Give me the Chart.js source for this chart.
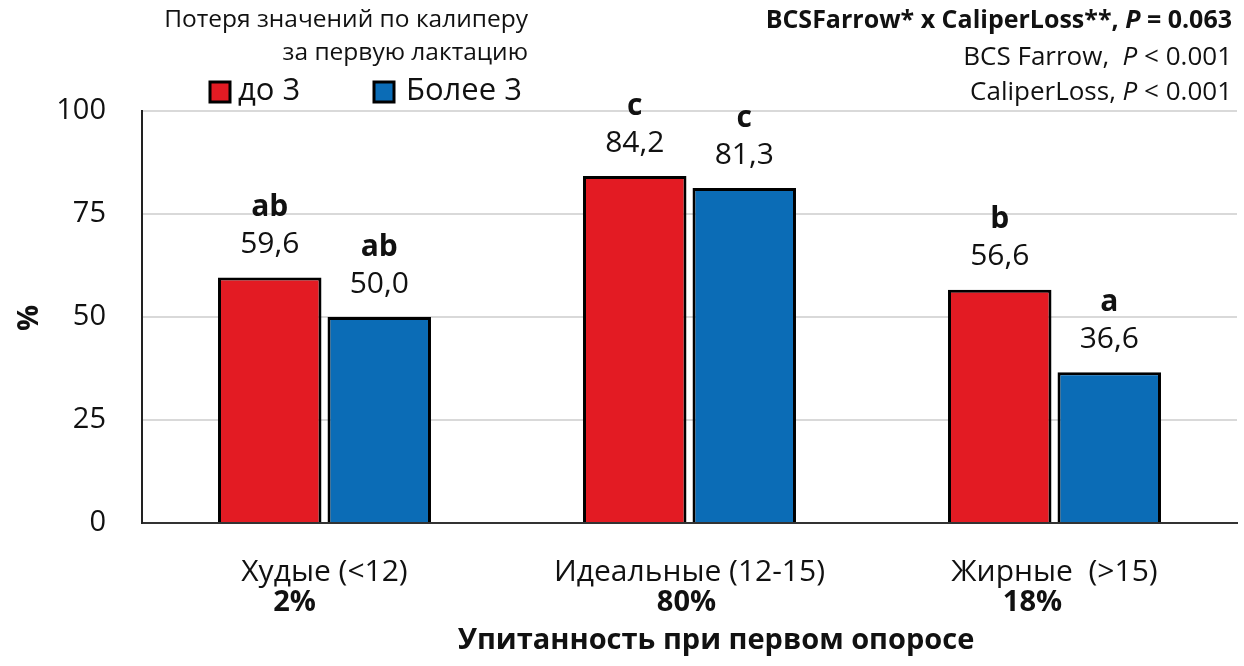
<!DOCTYPE html>
<html>
<head>
<meta charset="utf-8">
<script src="https://cdn.jsdelivr.net/npm/chart.js@4/dist/chart.umd.min.js"></script>
<style>
  html, body { margin: 0; padding: 0; background: #fff; }
  #wrap { width: 1244px; height: 666px; }
</style>
</head>
<body>
<div id="wrap"><canvas id="chart" width="1244" height="666"></canvas></div>
<script>
// data
const categories = ['Худые (<12)', 'Идеальные (12-15)', 'Жирные  (>15)'];
const shares = ['2%', '80%', '18%'];
const seriesNames = ['до 3', 'Более 3'];
const lossUpTo3 = [59.6, 84.2, 56.6];
const lossOver3 = [50.0, 81.3, 36.6];
const lettersUpTo3 = ['ab', 'c', 'b'];
const lettersOver3 = ['ab', 'c', 'a'];
const yTicks = [0, 25, 50, 75, 100];

const FONT = '"Open Sans", "Noto Sans", sans-serif';
const RED = '#e31b23';
const BLUE = '#0b6cb6';

const fmt = v => v.toFixed(1).replace('.', ',');

// labels, legend and notes drawn on top of the chart
const overlay = {
  id: 'overlay',
  afterDraw(chart) {
    const ctx = chart.ctx;
    const x = chart.scales.x;
    ctx.save();
    ctx.fillStyle = '#111';
    ctx.textBaseline = 'middle';
    ctx.textAlign = 'center';

    // values + significance letters above bars
    const letters = [lettersUpTo3, lettersOver3];
    chart.data.datasets.forEach((ds, di) => {
      chart.getDatasetMeta(di).data.forEach((bar, i) => {
        ctx.font = '30px ' + FONT;
        ctx.fillText(fmt(ds.data[i]), bar.x, bar.y - 33);
        ctx.font = 'bold 30px ' + FONT;
        ctx.fillText(letters[di][i], bar.x, bar.y - 70);
      });
    });

    // category labels under axis (share line sits a bit left, like the original)
    const shareShift = [-30, -3, -22];
    categories.forEach((c, i) => {
      const cx = x.getPixelForValue(i);
      ctx.font = '30px ' + FONT;
      ctx.fillText(c, cx, 572);
      ctx.font = 'bold 29px ' + FONT;
      ctx.fillText(shares[i], cx + shareShift[i], 603);
    });

    // axis titles
    ctx.font = 'bold 29px ' + FONT;
    ctx.fillText('Упитанность при первом опоросе', 716, 641);
    ctx.save();
    ctx.translate(30, 318);
    ctx.rotate(-Math.PI / 2);
    ctx.fillText('%', 0, 0);
    ctx.restore();

    // legend title + items
    ctx.textAlign = 'right';
    ctx.font = '24.5px ' + FONT;
    ctx.fillText('Потеря значений по калиперу', 528, 20);
    ctx.fillText('за первую лактацию', 528, 53);
    const legX = [210, 374];
    const textGap = [28, 32];
    chart.data.datasets.forEach((ds, di) => {
      ctx.fillStyle = ds.backgroundColor;
      ctx.fillRect(legX[di], 82, 20, 20);
      ctx.strokeStyle = '#000';
      ctx.lineWidth = 3;
      ctx.strokeRect(legX[di], 82, 20, 20);
      ctx.fillStyle = '#111';
      ctx.textAlign = 'left';
      ctx.font = '31px ' + FONT;
      ctx.fillText(ds.label, legX[di] + textGap[di], 91);
    });

    // stats notes, right aligned
    const rx = 1232;
    const drawRuns = (runs, y, size) => {
      let w = 0;
      runs.forEach(r => { ctx.font = r[1] + ' ' + size + 'px ' + FONT; w += ctx.measureText(r[0]).width; });
      let cx = rx - w;
      ctx.textAlign = 'left';
      runs.forEach(r => {
        ctx.font = r[1] + ' ' + size + 'px ' + FONT;
        ctx.fillText(r[0], cx, y);
        cx += ctx.measureText(r[0]).width;
      });
    };
    drawRuns([['BCSFarrow* x CaliperLoss**, ', 'bold'], ['P', 'italic bold'], [' = 0.063', 'bold']], 21, 25);
    drawRuns([['BCS Farrow,  ', 'normal'], ['P', 'italic'], [' < 0.001', 'normal']], 58, 26);
    drawRuns([['CaliperLoss, ', 'normal'], ['P', 'italic'], [' < 0.001', 'normal']], 93, 26);
    ctx.restore();
  }
};

new Chart(document.getElementById('chart'), {
  type: 'bar',
  data: {
    labels: categories,
    datasets: [
      { label: seriesNames[0], data: lossUpTo3, backgroundColor: RED, borderColor: '#000', borderWidth: 3 },
      { label: seriesNames[1], data: lossOver3, backgroundColor: BLUE, borderColor: '#000', borderWidth: 3 }
    ]
  },
  options: {
    responsive: false,
    animation: false,
    categoryPercentage: 0.6,
    barPercentage: 0.945,
    layout: { padding: { top: 111, right: 7, left: 0, bottom: 0 } },
    plugins: { legend: { display: false }, tooltip: { enabled: false } },
    scales: {
      x: {
        ticks: { display: false },
        grid: { display: false },
        border: { display: true, color: '#333', width: 2 },
        afterFit: s => { s.height = 666 - 523; }
      },
      y: {
        min: 0,
        max: 100,
        afterBuildTicks: s => { s.ticks = yTicks.map(v => ({ value: v })); },
        ticks: { color: '#111', font: { family: FONT, size: 29 }, padding: 36 },
        grid: { color: '#d9d9d9', lineWidth: 2, drawTicks: false },
        border: { display: true, color: '#222', width: 2 },
        afterFit: s => { s.width = 142; }
      }
    }
  },
  plugins: [overlay]
});
</script>
</body>
</html>
